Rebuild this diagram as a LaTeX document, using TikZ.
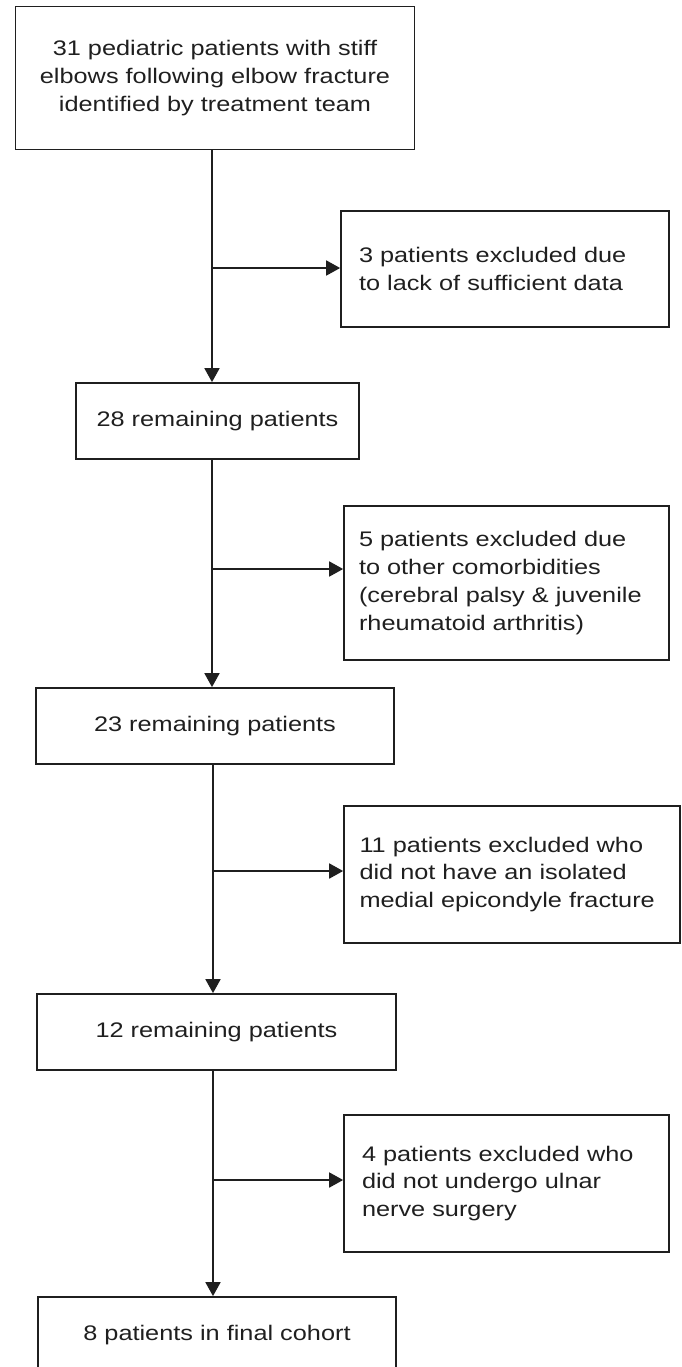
\documentclass[tikz,border=0pt]{standalone}
\usepackage{fontspec}
\setmainfont{Liberation Sans}[FakeStretch=1.2]
\usetikzlibrary{arrows.meta}

\tikzset{
  stagebox/.style={draw, line width=1pt, align=center, inner sep=0pt},
  exclbox/.style={draw, line width=1pt, align=left, inner xsep=0.36cm, inner ysep=0pt},
  flow/.style={line width=1pt, -{Triangle[length=2.8mm,width=3mm]}}
}

\begin{document}
\begin{tikzpicture}[x=0.02cm, y=-0.02cm, font=\fontsize{12}{15.9}\selectfont, color=black!88]
    \useasboundingbox (0,0) rectangle (681,1367);
    \clip (0,0) rectangle (681,1367);
    % stages down the left
    \node [stagebox, minimum width=7.98cm, minimum height=2.86cm] (start) at (215,78)
        {31 pediatric patients with stiff\\elbows following elbow fracture\\identified by treatment team};
    \node [stagebox, minimum width=5.66cm, minimum height=1.52cm] (rem28) at (217.5,421) {28 remaining patients};
    \node [stagebox, minimum width=7.16cm, minimum height=1.52cm] (rem23) at (215,726) {23 remaining patients};
    \node [stagebox, minimum width=7.18cm, minimum height=1.52cm] (rem12) at (216.5,1032) {12 remaining patients};
    \node [stagebox, minimum width=7.16cm, minimum height=1.52cm] (final) at (217,1335) {8 patients in final cohort};
    % exclusions on the right
    \node [exclbox, text width=5.84cm, minimum height=2.32cm] (excl3) at (505,269)
        {3 patients excluded due\\to lack of sufficient data};
    \node [exclbox, text width=5.9cm, inner xsep=0.3cm, minimum height=3.08cm] (excl5) at (506.5,583)
        {5 patients excluded due\\to other comorbidities\\(cerebral palsy \& juvenile\\rheumatoid arthritis)};
    \node [exclbox, text width=6.1cm, inner xsep=0.31cm, minimum height=2.74cm] (excl11) at (512,874.5)
        {11 patients excluded who\\did not have an isolated\\medial epicondyle fracture};
    \node [exclbox, text width=5.78cm, minimum height=2.74cm] (excl4) at (506.5,1183.5)
        {4 patients excluded who\\did not undergo ulnar\\nerve surgery};
    % branch points on the trunk
    \coordinate (j1) at (212,268);
    \coordinate (j2) at (212,569);
    \coordinate (j3) at (213,871);
    \coordinate (j4) at (213,1180);
    % trunk
    \draw [flow] (j1 |- start.south) -- (j1 |- rem28.north);
    \draw [flow] (j2 |- rem28.south) -- (j2 |- rem23.north);
    \draw [flow] (j3 |- rem23.south) -- (j3 |- rem12.north);
    \draw [flow] (j4 |- rem12.south) -- (j4 |- final.north);
    % side arrows
    \draw [flow] (j1) -- (j1 -| excl3.west);
    \draw [flow] (j2) -- (j2 -| excl5.west);
    \draw [flow] (j3) -- (j3 -| excl11.west);
    \draw [flow] (j4) -- (j4 -| excl4.west);
\end{tikzpicture}
\end{document}
